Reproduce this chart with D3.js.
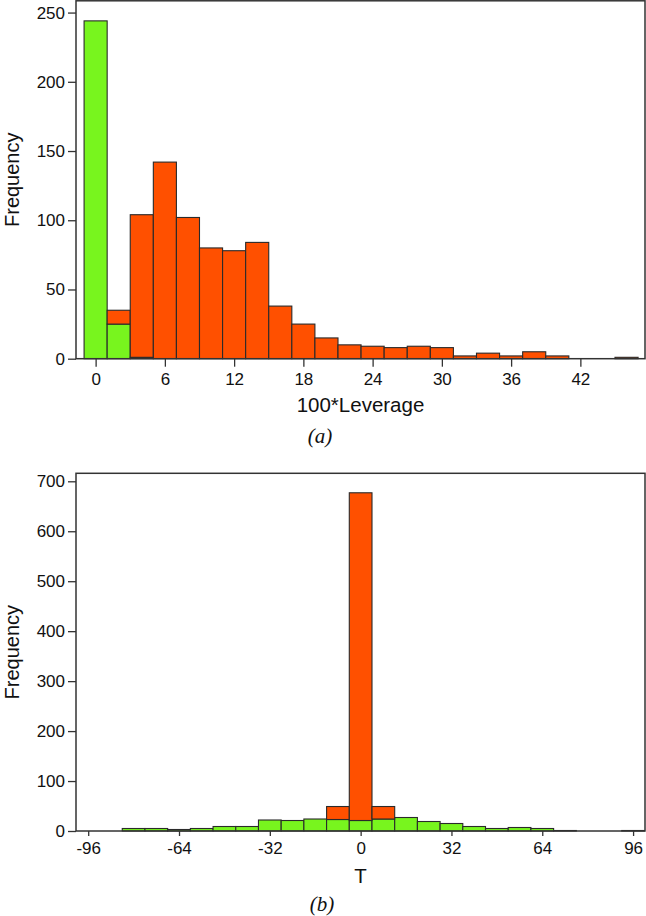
<!DOCTYPE html>
<html><head><meta charset="utf-8">
<script src="https://cdn.jsdelivr.net/npm/d3@7"></script>
<style>
body{margin:0;background:#fff;}
svg{display:block;}
.tick text{font-family:"Liberation Sans",Arial,sans-serif;}
</style></head>
<body>
<svg id="c" width="646" height="916"></svg>
<script>
// ---- Data: panel (a) 100*Leverage histogram (bin width 2, centres) ----
const levCenters = [0,2,4,6,8,10,12,14,16,18,20,22,24,26,28,30,32,34,36,38,40,42,44,46];
const levGreen   = [244,25,1,0,0,0,0,0,0,0,0,0,0,0,0,0,0,0,0,0,0,0,0,0];
const levOrange  = [0,10,103,142,102,80,78,84,38,25,15,10,9,8,9,8,2,4,2,5,2,0,0,1];
const levTicksX  = [0,6,12,18,24,30,36,42];
const levTicksY  = [0,50,100,150,200,250];

// ---- Data: panel (b) T histogram (bin width 8, centres) ----
const tCenters = [-96,-88,-80,-72,-64,-56,-48,-40,-32,-24,-16,-8,0,8,16,24,32,40,48,56,64,72,80,88,96];
const tGreen   = [0,0,5,5,3,5,9,9,22,21,24,23,21,24,27,19,15,9,5,7,5,1,0,0,1];
const tOrange  = [0,0,0,0,0,0,0,0,0,0,0,26,656,25,0,0,0,0,0,0,0,0,0,0,0];
const tTicksX  = [-96,-64,-32,0,32,64,96];
const tTicksY  = [0,100,200,300,400,500,600,700];

const GREEN = "#78f51e", ORANGE = "#ff5000", EDGE = "#2a2a2a", FRAME = "#333";
const svg = d3.select("#c");

function panel(o){
  const g = svg.append("g");
  const x = d3.scaleLinear().domain(o.xDom).range([o.left, o.right]);
  const y = d3.scaleLinear().domain([0, o.yMax]).range([o.bottom, o.top]);
  const rows = o.centers.map((c,i)=>({c, green:o.green[i], orange:o.orange[i]}));
  const stack = d3.stack().keys(["green","orange"])(rows);
  const colors = {green:GREEN, orange:ORANGE};
  stack.forEach(s=>{
    g.append("g").selectAll("rect")
      .data(s.filter(d=>d[1]-d[0]>0))
      .join("rect")
      .attr("x", d=>x(d.data.c - o.bw/2))
      .attr("width", d=>x(d.data.c + o.bw/2)-x(d.data.c - o.bw/2))
      .attr("y", d=>y(d[1]))
      .attr("height", d=>y(d[0])-y(d[1]))
      .attr("fill", colors[s.key])
      .attr("stroke", EDGE).attr("stroke-width", 1.1);
  });
  // frame
  g.append("rect").attr("x", o.left).attr("y", o.top)
    .attr("width", o.right-o.left).attr("height", o.bottom-o.top)
    .attr("fill","none").attr("stroke",FRAME).attr("stroke-width",1.5);
  // axes
  const xa = g.append("g").attr("transform",`translate(0,${o.bottom})`)
    .call(d3.axisBottom(x).tickValues(o.ticksX).tickSize(o.xTick).tickPadding(6).tickFormat(d3.format("d")));
  const ya = g.append("g").attr("transform",`translate(${o.left},0)`)
    .call(d3.axisLeft(y).tickValues(o.ticksY).tickSize(8).tickPadding(3));
  [xa,ya].forEach(a=>{
    a.select(".domain").remove();
    a.selectAll(".tick line").attr("stroke",FRAME).attr("stroke-width",1.3);
    a.selectAll(".tick text").attr("font-size",17).attr("fill","#111");
  });
  xa.selectAll(".tick text").text(d=>d<0?"-"+Math.abs(d):d);
  // titles
  g.append("text").attr("transform",`translate(18.5,${(o.top+o.bottom)/2}) rotate(-90)`)
    .attr("text-anchor","middle").attr("font-family","Liberation Sans, Arial, sans-serif")
    .attr("font-size",20).attr("fill","#111").text("Frequency");
  g.append("text").attr("x",(o.left+o.right)/2).attr("y",o.xTitleY)
    .attr("text-anchor","middle").attr("font-family","Liberation Sans, Arial, sans-serif")
    .attr("font-size",20.5).attr("fill","#111").text(o.xTitle);
  g.append("text").attr("x",o.capX).attr("y",o.capY)
    .attr("text-anchor","middle").attr("font-family","Liberation Serif, Times New Roman, serif")
    .attr("font-style","italic").attr("font-size",21).attr("fill","#111")
    .text(o.caption);
}

panel({centers:levCenters, green:levGreen, orange:levOrange, bw:2,
  xDom:[-1.7,47.6], yMax:258.5, left:76, right:645, top:0.8, bottom:358.7,
  ticksX:levTicksX, ticksY:levTicksY, xTick:8,
  xTitle:"100*Leverage", xTitleY:411.5, caption:"(a)", capX:320, capY:443});

panel({centers:tCenters, green:tGreen, orange:tOrange, bw:8,
  xDom:[-100.3,100.2], yMax:716, left:76, right:645, top:473.3, bottom:831,
  ticksX:tTicksX, ticksY:tTicksY, xTick:5,
  xTitle:"T", xTitleY:883, caption:"(b)", capX:322, capY:911});
</script>
</body></html>
